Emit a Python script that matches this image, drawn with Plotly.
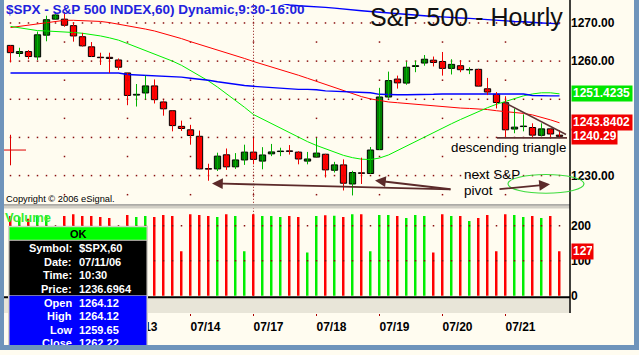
import plotly.graph_objects as go

W, H = 639, 355
FONT = "Liberation Sans, Arial, Helvetica, sans-serif"
FRAME = "#6f94bb"
CREAM = "#fffcf0"


def X(px):
    return px / W


def Y(py):
    return 1 - py / H


# ---------------- data ----------------
bar_index = list(range(62))
opens = [1264.12, 1262.0, 1262.5, 1261.1, 1266.8, 1271.0, 1271.0, 1269.3, 1266.4, 1263.75,
         1261.0, 1261.0, 1260.3, 1256.9, 1251.1, 1251.65, 1253.5, 1249.3, 1247.0, 1242.9,
         1242.0, 1240.3, 1231.8, 1231.75, 1235.45, 1232.3, 1234.1, 1236.15, 1233.8, 1235.7,
         1236.3, 1236.45, 1236.15, 1233.8, 1234.85, 1235.6, 1231.4, 1232.8, 1227.8, 1230.7,
         1230.55, 1236.8, 1250.6, 1255.3, 1254.25, 1258.6, 1259.5, 1260.25, 1259.9, 1258.1,
         1258.8, 1257.7, 1257.85, 1252.75, 1251.3, 1249.1, 1242.2, 1242.85, 1242.6, 1240.55,
         1242.25, 1240.6]
highs = [1264.12, 1263.5, 1262.9, 1267.75, 1271.9, 1272.85, 1272.8, 1270.2, 1267.4, 1265.0,
         1262.2, 1262.2, 1260.7, 1256.9, 1254.0, 1256.2, 1255.2, 1249.7, 1247.0, 1244.4,
         1243.3, 1241.8, 1233.1, 1236.0, 1237.1, 1235.9, 1238.1, 1239.85, 1237.45, 1238.3,
         1237.3, 1238.0, 1236.4, 1236.2, 1239.85, 1235.7, 1233.6, 1234.25, 1231.25, 1234.7,
         1237.5, 1253.0, 1257.25, 1256.2, 1259.8, 1260.1, 1261.6, 1261.2, 1262.4, 1260.5,
         1260.25, 1258.4, 1258.0, 1255.6, 1251.9, 1250.8, 1247.6, 1246.05, 1243.7, 1243.7,
         1242.3, 1241.9]
lows = [1259.65, 1261.1, 1260.5, 1260.3, 1265.2, 1270.9, 1269.0, 1265.1, 1263.8, 1261.1,
        1259.0, 1256.9, 1257.7, 1248.45, 1248.1, 1250.0, 1248.9, 1245.7, 1241.6, 1241.7,
        1238.1, 1231.7, 1228.65, 1231.2, 1231.5, 1231.75, 1232.8, 1232.95, 1231.65, 1235.1,
        1235.1, 1235.5, 1232.95, 1232.95, 1234.8, 1229.5, 1230.8, 1226.1, 1224.8, 1227.8,
        1230.5, 1236.7, 1250.2, 1252.8, 1253.8, 1257.1, 1258.8, 1258.6, 1256.2, 1256.5,
        1257.1, 1256.6, 1253.4, 1251.1, 1247.6, 1239.85, 1241.1, 1241.6, 1239.85, 1240.3,
        1239.7, 1240.2]
closes = [1262.22, 1262.5, 1261.2, 1266.9, 1270.85, 1272.1, 1269.4, 1266.6, 1264.0, 1261.2,
          1260.9, 1260.7, 1258.4, 1251.0, 1251.3, 1253.5, 1249.9, 1247.5, 1243.1, 1242.35,
          1240.5, 1231.75, 1231.7, 1235.1, 1232.3, 1234.1, 1236.15, 1234.25, 1235.4, 1236.2,
          1236.4, 1236.35, 1234.35, 1234.35, 1235.9, 1231.5, 1232.8, 1228.0, 1230.8, 1230.6,
          1236.7, 1250.6, 1254.9, 1254.3, 1258.4, 1258.8, 1260.5, 1259.65, 1258.1, 1259.15,
          1257.75, 1257.8, 1253.45, 1251.9, 1249.15, 1242.0, 1242.7, 1242.9, 1240.6, 1242.25,
          1240.9, 1240.29]
volume = [228, 225, 220, 228, 230, 125, 228, 233, 228, 228,
          225, 222, 125, 231, 225, 228, 225, 231, 228, 127,
          233, 231, 228, 225, 233, 228, 127, 233, 228, 228,
          225, 228, 225, 124, 228, 230, 229, 225, 233, 233,
          127, 231, 231, 228, 222, 231, 228, 124, 233, 228,
          228, 214, 222, 231, 127, 233, 231, 225, 228, 222,
          228, 127]
ma_red = [1268.8, 1269.1, 1269.5, 1269.9, 1270.2, 1270.5, 1270.7, 1270.7, 1270.6, 1270.5,
          1270.4, 1270.1, 1269.7, 1269.3, 1268.9, 1268.4, 1267.9, 1267.3, 1266.6, 1265.9,
          1265.1, 1264.4, 1263.7, 1263.0, 1262.3, 1261.5, 1260.7, 1259.9, 1259.2, 1258.6,
          1257.8, 1257.1, 1256.3, 1255.5, 1254.7, 1253.8, 1252.9, 1252.1, 1251.4, 1250.7,
          1250.1, 1249.6, 1249.3, 1249.1, 1248.9, 1248.6, 1248.4, 1248.2, 1248.0, 1247.9,
          1247.7, 1247.6, 1247.5, 1247.3, 1247.0, 1246.8, 1246.6, 1246.3, 1245.9, 1245.3,
          1244.6, 1243.8402]
ma_green = [1269.1, 1268.7, 1268.3, 1268.0, 1267.9, 1267.8, 1267.6, 1267.5, 1267.3, 1267.0,
            1266.6, 1266.1, 1265.5, 1264.6, 1263.7, 1262.8, 1262.0, 1261.0, 1260.0, 1258.9,
            1257.5, 1256.3, 1254.8, 1253.2, 1251.5, 1249.8, 1247.9, 1246.0, 1244.8, 1243.6,
            1242.3, 1241.2, 1240.0, 1238.9, 1237.9, 1237.0, 1236.1, 1235.3, 1234.7, 1234.3,
            1234.2, 1234.6, 1235.4, 1236.6, 1237.8, 1239.0, 1240.2, 1241.4, 1242.6, 1243.6,
            1244.7, 1245.8, 1246.9, 1247.8, 1248.7, 1249.5, 1250.2, 1250.9, 1251.4, 1251.7,
            1251.7, 1251.4235]
ma_blue = [1256.9, 1256.9, 1256.9, 1256.9, 1256.9, 1256.9, 1256.9, 1256.9, 1256.9, 1256.9,
           1256.9, 1256.9, 1256.9, 1256.5, 1256.4, 1256.3, 1256.2, 1256.1, 1256.0, 1255.8,
           1255.5, 1255.3, 1255.0, 1254.6, 1254.2, 1253.9, 1253.6, 1253.4, 1253.2, 1253.0,
           1252.8, 1252.7, 1252.6, 1252.6, 1252.5, 1252.2, 1252.1, 1252.1, 1252.0, 1251.9,
           1251.7, 1251.3, 1251.2, 1251.2, 1251.2, 1251.2, 1251.2, 1251.3, 1251.4, 1251.4,
           1251.4, 1251.4, 1251.4, 1251.4, 1251.4, 1251.4, 1251.4, 1251.4, 1251.0, 1250.9,
           1250.9, 1250.9]
ma_blue_long = [None] * 30 + [
    1275.2, 1274.7, 1274.5, 1274.4, 1274.3, 1274.1, 1273.9, 1273.6, 1273.4, 1273.2,
    1273.0, 1272.8, 1272.6, 1272.4, 1272.2, 1272.0, 1271.9, 1271.7, 1271.6, 1271.4,
    1271.3, 1271.2, 1271.0, 1270.9, 1270.7, 1270.6, 1270.4, 1270.3, 1270.1, 1270.0,
    1269.9, 1269.8]
day_tick_index = [6, 13, 20, 27, 34, 41, 48, 55]
day_label_index = [13, 20, 27, 34, 41, 48, 55]
day_tick_labels = ["07/13", "07/14", "07/17", "07/18", "07/19", "07/20", "07/21"]
week_start_index = 27
price_grid_levels = [1230, 1240, 1250, 1260, 1270]
price_minor_levels = [1225, 1235, 1245, 1255, 1265]
price_label_ticks = [1230, 1260, 1270]
volume_ticks = [0, 100, 200]
cursor_price = 1236.6964
info_symbol = "$SPX,60"
info_date = "07/11/06"
info_time = "10:30"

n = len(bar_index)
up = [c >= o for o, c in zip(opens, closes)]

RED = "#ff0000"
GREEN_BODY = "#008000"
GREEN_WICK = "#00b000"
VOL_GREEN = "#00ee00"
DOT = "#8a1010"

fig = go.Figure()

# grid dots (price panel)
gx, gy = [], []
for lv in price_grid_levels:
    gx += bar_index
    gy += [lv] * n
for lv in price_minor_levels:
    gx += day_tick_index
    gy += [lv] * len(day_tick_index)
fig.add_trace(go.Scatter(x=gx, y=gy, mode="markers", xaxis="x", yaxis="y",
                         marker=dict(symbol="square", size=1.5, color=DOT, line=dict(width=0)),
                         hoverinfo="skip"))
# grid dots (volume panel)
vx, vy = [], []
for lv in volume_ticks[1:]:
    vx += bar_index
    vy += [lv] * n
fig.add_trace(go.Scatter(x=vx, y=vy, mode="markers", xaxis="x", yaxis="y2",
                         marker=dict(symbol="square", size=1.5, color=DOT, line=dict(width=0)),
                         hoverinfo="skip"))

# moving averages
fig.add_trace(go.Scatter(x=bar_index, y=ma_red, mode="lines", line=dict(color="#ff0000", width=1),
                         xaxis="x", yaxis="y"))
fig.add_trace(go.Scatter(x=bar_index, y=ma_green, mode="lines", line=dict(color="#00f000", width=1),
                         xaxis="x", yaxis="y"))
fig.add_trace(go.Scatter(x=bar_index, y=ma_blue, mode="lines", line=dict(color="#0000ff", width=1.4),
                         xaxis="x", yaxis="y"))
fig.add_trace(go.Scatter(x=bar_index, y=ma_blue_long, mode="lines", line=dict(color="#0000ff", width=1.4),
                         xaxis="x", yaxis="y"))


# wicks
def wick_xy(is_up):
    xs, ys = [], []
    for i in bar_index:
        if up[i] == is_up:
            xs += [i, i, None]
            ys += [highs[i], lows[i], None]
    return xs, ys


for is_up, col in ((False, "#ee0000"), (True, GREEN_WICK)):
    wx, wy = wick_xy(is_up)
    fig.add_trace(go.Scatter(x=wx, y=wy, mode="lines", line=dict(color=col, width=1),
                             xaxis="x", yaxis="y"))

# bodies
for is_up, col in ((False, RED), (True, GREEN_BODY)):
    idx = [i for i in bar_index if up[i] == is_up]
    fig.add_trace(go.Bar(
        x=idx,
        base=[min(opens[i], closes[i]) for i in idx],
        y=[max(abs(closes[i] - opens[i]), 0.12) for i in idx],
        width=0.7, marker=dict(color=col, line=dict(color="black", width=1)),
        xaxis="x", yaxis="y"))

# volume
fig.add_trace(go.Bar(x=bar_index, y=volume, width=0.22,
                     marker=dict(color=[VOL_GREEN if u else RED for u in up], line=dict(width=0)),
                     xaxis="x", yaxis="y2"))

p_top = 1260 + 58 / 3.87
p_bot = 1260 - 146 / 3.87
v_scale = 0.355

fig.update_layout(
    width=W, height=H, margin=dict(l=0, r=0, t=0, b=0),
    paper_bgcolor=CREAM, plot_bgcolor="rgba(0,0,0,0)",
    showlegend=False, barmode="overlay", hovermode=False,
    font=dict(family=FONT, color="black"),
    xaxis=dict(domain=[X(4), X(570)], range=[(4 - 10.5) / 9, (570 - 10.5) / 9],
               anchor="free", position=Y(317.5), showgrid=False, zeroline=False, showline=False,
               tickmode="array", tickvals=day_label_index, ticktext=day_tick_labels,
               ticks="outside", ticklen=2, tickwidth=1, tickcolor="#aa0000",
               ticklabelshift=15, ticklabelstandoff=1,
               tickfont=dict(family=FONT, size=12, color="black", weight="bold")),
    yaxis=dict(domain=[Y(208), Y(4)], range=[p_bot, p_top], side="right", anchor="x",
               showgrid=False, zeroline=False, showline=False, ticks="",
               tickmode="array", tickvals=price_label_ticks,
               ticktext=[f"{v:.2f}" for v in price_label_ticks],
               tickfont=dict(family=FONT, size=12, color="black", weight="bold")),
    yaxis2=dict(domain=[Y(302), Y(211)], range=[-2 / v_scale, 89 / v_scale], side="right", anchor="x",
                showgrid=False, zeroline=False, showline=False, ticks="",
                tickmode="array", tickvals=volume_ticks, ticktext=[str(v) for v in volume_ticks],
                tickfont=dict(family=FONT, size=12, color="black", weight="bold")),
)

shapes = []


def rect(x0, y0, x1, y1, fill, layer="above", line=None):
    shapes.append(dict(type="rect", xref="paper", yref="paper", x0=X(x0), x1=X(x1), y0=Y(y1), y1=Y(y0),
                       fillcolor=fill, line=line or dict(width=0), layer=layer))


def seg(x0, y0, x1, y1, color, width=1, dash="solid", layer="above"):
    shapes.append(dict(type="line", xref="paper", yref="paper", x0=X(x0), x1=X(x1), y0=Y(y0), y1=Y(y1),
                       line=dict(color=color, width=width, dash=dash), layer=layer))


# week boundary dense dotted line
shapes.append(dict(type="line", xref="x", yref="paper", x0=week_start_index, x1=week_start_index,
                   y0=Y(300), y1=Y(4), line=dict(color=DOT, width=1, dash="1px,2px"), layer="below"))
# panel separator and axis band
rect(4, 207.5, 570, 211.5, "#d2cfc6")
seg(4, 207.8, 570, 207.8, "#8a8a8a", 1)
rect(4, 302.5, 569.5, 317.5, "#e8e5d8", layer="below")
seg(4, 301.5, 570, 301.5, "black", 2)
seg(570, 0, 570, 317.5, "black", 1.5)
# crosshair cursor
shapes.append(dict(type="line", xref="x", yref="y", x0=(4 - 10.5) / 9, x1=(26 - 10.5) / 9,
                   y0=cursor_price, y1=cursor_price, line=dict(color="#dd0000", width=1), layer="above"))
shapes.append(dict(type="line", xref="x", yref="y", x0=0, x1=0,
                   y0=cursor_price - 4, y1=cursor_price + 4, line=dict(color="#dd0000", width=1), layer="above"))
# descending triangle
seg(505, 104.3, 566, 136.5, "#5e3434", 1.6)
seg(497, 139.8, 567, 139.8, "#5e3434", 1.6)
# pivot ellipse
shapes.append(dict(type="circle", xref="paper", yref="paper", x0=X(508), x1=X(584), y0=Y(196), y1=Y(177),
                   line=dict(color="#3ddc3d", width=1.2), layer="above"))
# info box
rect(8, 229, 148, 352, "#d4d0c8")
rect(9.5, 230.5, 146.5, 243.3, "#00ff00")
rect(9.5, 244.3, 146.5, 299.5, "#000000")
rect(9.5, 300, 146.5, 352, "#0000ff")
# frames
rect(0, 0, 4, 355, FRAME)
rect(634, 0, 639, 355, FRAME)
fig.update_layout(shapes=shapes)

ann = []


def text(x, y, s, size=12, color="black", xanchor="left", bold=False, **kw):
    ann.append(dict(xref="paper", yref="paper", x=X(x), y=Y(y), text=(f"<b>{s}</b>" if bold else s),
                    showarrow=False, xanchor=xanchor, yanchor="middle",
                    font=dict(family=FONT, size=size, color=color), **kw))


text(4, 9.5, "$SPX - S&P 500 INDEX,60) Dynamic,9:30-16:00", 13.5, "#2222dd", bold=True)
text(368, 17, "S&P 500 - Hourly", 25, "#111111")
text(4, 201.5, "Copyright © 2006 eSignal.", 9.3, "black")
text(3, 221, "Volume", 13, "#33ee33", bold=True)
text(449, 150, "descending triangle", 13.3, "black")
text(462, 177, "next S&P", 13.5, "black")
text(462, 193, "pivot", 13.5, "black")


def arrow(hx, hy, tx, ty):
    ann.append(dict(xref="paper", yref="paper", x=X(hx), y=Y(hy), ax=tx - hx, ay=ty - hy, text="",
                    showarrow=True, arrowhead=2, arrowsize=1.2, arrowwidth=1.8, arrowcolor="#5c2a2a",
                    standoff=0, startstandoff=0))


arrow(212, 186, 452, 192)
arrow(375, 183, 452, 192)
arrow(550, 187, 498, 192)


# value boxes on the right scale
def vbox(value, label, bg, yref, width):
    ann.append(dict(xref="paper", yref=yref, x=X(571), y=value, text=f"<b>{label}</b>", showarrow=False,
                    xanchor="left", yanchor="middle", bgcolor=bg, borderpad=1, width=width, height=12.5,
                    align="left", font=dict(family=FONT, size=12, color="white")))


vbox(ma_green[-1], f"{ma_green[-1]:.4f}", "#00e600", "y", 58)
vbox(ma_red[-1], f"{ma_red[-1]:.4f}", "#f00000", "y", 58)
vbox(closes[-1], f"{closes[-1]:.2f}", "#f00000", "y", 43)
vbox(volume[-1], f"{volume[-1]}", "#f00000", "y2", 19)

# info box text
text(78, 237, "OK", 11, "black", xanchor="center", bold=True)
rows_black = [("Symbol:", info_symbol), ("Date:", info_date), ("Time:", info_time),
              ("Price:", f"{cursor_price:.4f}")]
rows_blue = [("Open", f"{opens[0]:.2f}"), ("High", f"{highs[0]:.2f}"), ("Low", f"{lows[0]:.2f}"),
             ("Close", f"{closes[0]:.2f}")]
row_y = [251.7, 265.3, 279, 292.7, 307.3, 321, 334.7, 348.3]
for (lab, val), yy in zip(rows_black + rows_blue, row_y):
    text(73.5, yy, lab, 11, "white", xanchor="right", bold=True)
    text(77, yy, val, 11, "white", xanchor="left", bold=True)

# bottom frame drawn last so it clips the info box
ann.append(dict(xref="paper", yref="paper", x=0, y=0, xanchor="left", yanchor="bottom", text=" ",
                showarrow=False, width=W, height=5, bgcolor=FRAME, borderpad=0, borderwidth=0,
                font=dict(size=1)))
fig.update_layout(annotations=ann)

fig.write_html("out.html", config={"displayModeBar": False})
